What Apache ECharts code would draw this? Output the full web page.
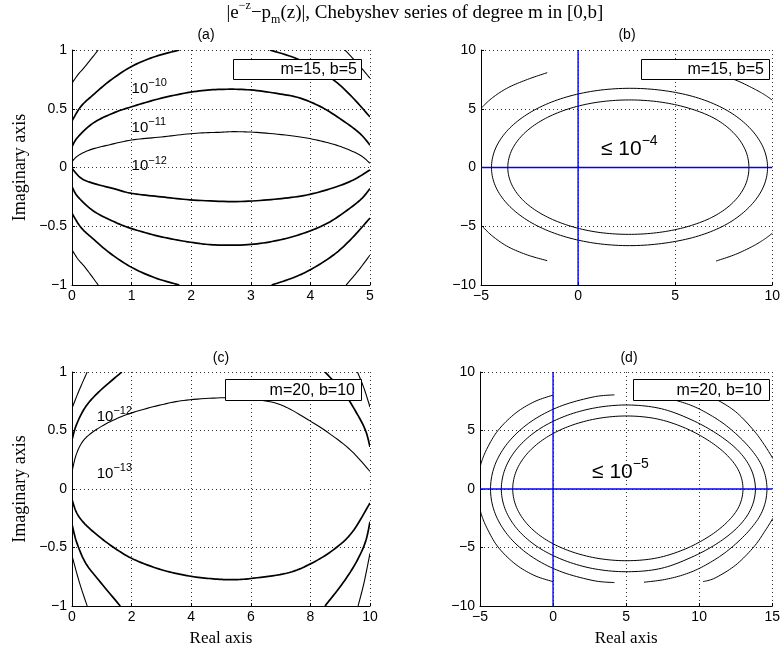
<!DOCTYPE html>
<html><head><meta charset="utf-8">
<script src="https://cdn.jsdelivr.net/npm/echarts/dist/echarts.min.js"></script>
<style>html,body{margin:0;padding:0;background:#fff}#c{width:783px;height:651px}</style>
</head><body><div id="c"></div><script>
// ---------- Panel (a): m=15, b=5, region [0,5]x[-1,1] ----------
const aCornerTL = [[0,0.717],[0.1,0.79],[0.22,0.86],[0.44,1.0]];
const aCornerBL = [[0,-0.70],[0.1,-0.78],[0.22,-0.85],[0.44,-1.0]];
const aCornerTR = [[4.58,1.0],[4.8,0.88],[5,0.76]];
const aCornerBR = [[4.6,-1.0],[4.8,-0.88],[5,-0.745]];
const aOuterUpL = [[0,0.396],[0.15,0.52],[0.36,0.62],[0.64,0.74],[1.0,0.86],[1.4,0.945],[1.8,1.0]];
const aOuterUpR = [[3.32,1.0],[3.7,0.94],[4.0,0.87],[4.39,0.745],[4.7,0.6],[5,0.43]];
const aOuterLoL = [[0,-0.39],[0.15,-0.51],[0.36,-0.61],[0.64,-0.73],[1.0,-0.85],[1.4,-0.94],[1.8,-1.0]];
const aOuterLoR = [[3.35,-1.0],[3.7,-0.94],[4.0,-0.87],[4.4,-0.74],[4.7,-0.6],[5,-0.43]];
const a10Up = [[0,0.177],[0.1,0.26],[0.36,0.38],[0.7,0.465],[1.0,0.517],[1.5,0.59],[2.04,0.645],[2.5,0.665],[3.0,0.66],[3.5,0.625],[3.83,0.59],[4.2,0.51],[4.6,0.38],[4.85,0.28],[5,0.19]];
const a10Lo = [[0,-0.163],[0.1,-0.25],[0.36,-0.37],[0.7,-0.46],[1.0,-0.52],[1.5,-0.59],[2.04,-0.64],[2.45,-0.66],[3.0,-0.655],[3.5,-0.615],[3.94,-0.55],[4.3,-0.47],[4.6,-0.37],[4.85,-0.27],[5,-0.18]];
const a11Up = [[0,0.05],[0.1,0.1],[0.3,0.15],[0.6,0.19],[1.0,0.234],[1.5,0.26],[2.04,0.29],[2.5,0.30],[2.75,0.305],[3.2,0.295],[3.83,0.26],[4.3,0.21],[4.6,0.16],[4.85,0.1],[5,0.036]];
const a12Lo = [[0,-0.007],[0.15,-0.09],[0.36,-0.135],[0.7,-0.18],[1.0,-0.22],[1.5,-0.25],[2.04,-0.277],[2.76,-0.29],[3.4,-0.27],[3.94,-0.234],[4.4,-0.17],[4.72,-0.106],[5,-0.02]];
const aLabels = [[1.0,0.67,'\u221210'],[1.0,0.34,'\u221211'],[1.0,0.013,'\u221212']];

// ---------- Panel (b): m=15, b=5, region [-5,10]x[-10,10] ----------
const bInner = [[-3.62,0],[-3.41,1.49],[-2.79,2.88],[-1.8,4.07],[-0.51,4.98],[0.98,5.55],[2.59,5.75],[4.2,5.58],[5.7,5.05],[7.0,4.2],[7.98,3.0],[8.6,1.55],[8.8,0],[8.6,-1.55],[7.98,-2.98],[7.0,-4.15],[5.7,-5.0],[4.2,-5.52],[2.59,-5.69],[0.98,-5.5],[-0.51,-4.93],[-1.8,-4.03],[-2.79,-2.86],[-3.41,-1.48],[-3.62,0]];
const bOuter = [[-4.46,0],[-4.22,1.74],[-3.51,3.37],[-2.38,4.77],[-0.91,5.84],[0.81,6.51],[2.65,6.74],[4.49,6.53],[6.21,5.9],[7.68,4.85],[8.81,3.42],[9.52,1.76],[9.76,0],[9.52,-1.74],[8.81,-3.38],[7.68,-4.8],[6.21,-5.82],[4.49,-6.43],[2.65,-6.65],[0.81,-6.43],[-0.91,-5.77],[-2.38,-4.72],[-3.51,-3.33],[-4.22,-1.72],[-4.46,0]];
const bArcTL = [[-5,5.04],[-4.4,5.95],[-3.6,6.8],[-2.6,7.5],[-1.59,8.07]];
const bArcBL = [[-5,-4.9],[-4.4,-5.85],[-3.6,-6.75],[-2.6,-7.45],[-1.59,-7.93]];
const bArcTR = [[7.1,7.96],[8.1,7.45],[9.0,6.75],[9.6,6.2],[10,5.74]];
const bArcBR = [[7.11,-7.96],[8.1,-7.4],[9.0,-6.7],[9.6,-6.1],[10,-5.6]];
const bAxisH = [[-5,0],[10,0]];
const bAxisV = [[0,-10],[0,10]];
const bNote = [[1.18,1.53,'\u22124']];

// ---------- Panel (c): m=20, b=10, region [0,10]x[-1,1] ----------
const cCornerTL = [[0,0.69],[0.25,0.85],[0.51,1.0]];
const cCornerBL = [[0,-0.57],[0.25,-0.8],[0.51,-1.0]];
const cCornerTR = [[9.58,1.0],[9.8,0.86],[10,0.7]];
const cCornerBR = [[10,-0.55],[9.8,-0.8],[9.6,-1.0]];
const cOuterTL = [[0,0.42],[0.15,0.55],[0.45,0.7],[0.9,0.83],[1.67,1.0]];
const cOuterBL = [[0,-0.3],[0.15,-0.45],[0.45,-0.63],[0.9,-0.78],[1.62,-1.0]];
const cOuterTR = [[8.49,1.0],[9.1,0.83],[9.55,0.65],[9.85,0.5],[10,0.36]];
const cOuterBR = [[10,-0.28],[9.85,-0.45],[9.55,-0.62],[9.1,-0.8],[8.49,-1.0]];
const c12Up = [[0,0.15],[0.15,0.3],[0.4,0.42],[0.83,0.51],[1.4,0.59],[2.06,0.655],[3.0,0.72],[3.85,0.76],[5.1,0.78],[6.0,0.77],[7.0,0.72],[8.0,0.58],[8.77,0.45],[9.4,0.32],[10,0.15]];
const c13Lo = [[0,-0.09],[0.15,-0.2],[0.4,-0.29],[0.83,-0.39],[1.4,-0.5],[2.06,-0.6],[3.0,-0.69],[3.85,-0.74],[4.6,-0.765],[5.3,-0.775],[6.0,-0.765],[7.2,-0.72],[8.0,-0.64],[8.77,-0.52],[9.4,-0.37],[10,-0.12]];
const cLabels = [[0.83,0.62,'\u221212'],[0.83,0.13,'\u221213']];

// ---------- Panel (d): m=20, b=10, region [-5,15]x[-10,10] ----------
const dRing1 = [[-2.76,0],[-2.49,1.62],[-1.7,3.12],[-0.45,4.41],[1.18,5.4],[3.08,6.03],[5.12,6.24],[7.16,5.98],[9.06,5.2],[10.69,4.1],[11.94,2.85],[12.73,1.5],[13.0,0],[12.73,-1.48],[11.94,-2.8],[10.69,-4.04],[9.06,-5.12],[7.16,-5.88],[5.12,-6.13],[3.08,-5.93],[1.18,-5.32],[-0.45,-4.36],[-1.7,-3.09],[-2.49,-1.6],[-2.76,0]];
const dRing2 = [[-3.54,0],[-3.24,1.86],[-2.37,3.59],[-0.99,5.08],[0.81,6.22],[2.9,6.94],[5.155,7.18],[7.41,6.86],[9.5,5.9],[11.3,4.65],[12.69,3.25],[13.55,1.7],[13.85,0],[13.55,-1.68],[12.69,-3.2],[11.3,-4.6],[9.5,-5.82],[7.41,-6.78],[5.155,-7.07],[2.9,-6.84],[0.81,-6.12],[-0.99,-5.0],[-2.37,-3.54],[-3.24,-1.84],[-3.54,0]];
const dRing3L = [[4.2,8.05],[2.73,7.86],[0.45,7.05],[-1.51,5.76],[-3.01,4.07],[-3.96,2.11],[-4.28,0],[-3.96,-2.11],[-3.01,-4.07],[-1.51,-5.74],[0.45,-7.02],[2.73,-7.82],[4.2,-8.0]];
const dRing3R = [[6.22,7.97],[7.63,7.78],[9.0,7.35],[10.3,6.65],[11.87,5.4],[13.37,3.65],[14.32,1.9],[14.64,0],[14.32,-1.9],[13.37,-3.62],[11.87,-5.35],[10.3,-6.6],[9.0,-7.3],[7.63,-7.74],[6.22,-7.97]];
const dArcTL = [[0,8.03],[-1.3,7.45],[-2.6,6.45],[-3.77,5.0],[-4.5,3.5],[-4.9,2.3],[-5.05,1.4]];
const dArcBL = [[-5.05,-1.3],[-4.9,-2.2],[-4.5,-3.4],[-3.77,-4.95],[-2.6,-6.4],[-1.3,-7.38],[0,-7.92]];
const dArcTR = [[10.26,8.0],[11.1,7.7],[12.5,6.6],[13.74,5.0],[14.5,3.7],[15.05,2.6]];
const dArcBR = [[10.26,-7.92],[11.1,-7.6],[12.5,-6.5],[13.74,-4.95],[14.5,-3.6],[15.05,-2.5]];
const dAxisH = [[-5,0],[15,0]];
const dAxisV = [[0,-10],[0,10]];
const dNote = [[2.67,1.45,'\u22125']];

// ---------- axis ranges / ticks ----------
const xRanges = [[0,5,1],[-5,10,5],[0,10,2],[-5,15,5]];
const yRanges = [[-1,1,0.5],[-10,10,5],[-1,1,0.5],[-10,10,5]];
const legendTexts = ['m=15, b=5','m=15, b=5','m=20, b=10','m=20, b=10'];
const panelTitles = ['(a)','(b)','(c)','(d)'];

const SANS = '"Liberation Sans", Arial, Helvetica, sans-serif';
const SERIF = '"Liberation Serif", "Times New Roman", serif';

const grids = [
  {left:72, top:50, width:298, height:235},
  {left:481, top:50, width:296, height:235},
  {left:72, top:372, width:298, height:234},
  {left:480, top:372, width:297, height:234}
];
const fmt = v => String(v).replace('-', '\u2212');

function xAx(g){
  const r = xRanges[g];
  return {type:'value', gridIndex:g, min:r[0], max:r[1], interval:r[2],
    axisLine:{show:true, onZero:false, lineStyle:{color:'#000', width:1}},
    axisTick:{show:true, inside:true, length:3, lineStyle:{color:'#000'}},
    axisLabel:{color:'#000', fontFamily:SANS, fontSize:14, margin:4, formatter:fmt},
    splitLine:{show:true, lineStyle:{color:'#333', type:[1,3], width:1}},
    name: g >= 2 ? 'Real axis' : '', nameLocation:'middle', nameGap:24,
    nameTextStyle:{fontFamily:SERIF, fontSize:17, color:'#000'}};
}
function yAx(g){
  const r = yRanges[g];
  return {type:'value', gridIndex:g, min:r[0], max:r[1], interval:r[2],
    axisLine:{show:true, onZero:false, lineStyle:{color:'#000', width:1}},
    axisTick:{show:true, inside:true, length:3, lineStyle:{color:'#000'}},
    axisLabel:{color:'#000', fontFamily:SANS, fontSize:14, margin:5, formatter:fmt},
    splitLine:{show:true, lineStyle:{color:'#333', type:[1,3], width:1}},
    name: (g === 0 || g === 2) ? 'Imaginary axis' : '', nameLocation:'middle', nameGap:43,
    nameTextStyle:{fontFamily:SERIF, fontSize:18, color:'#000'}};
}

// Contour curve: passes exactly through the read points (mapped by api.coord),
// drawn as a Catmull-Rom curve in pixel space so closed rings stay round.
function curve(g, pts, w){
  const closed = pts.length > 3 && pts[0][0] === pts[pts.length-1][0] && pts[0][1] === pts[pts.length-1][1];
  return {type:'custom', coordinateSystem:'cartesian2d', xAxisIndex:g, yAxisIndex:g,
    data:pts, encode:{x:0, y:1}, clip:true, silent:true, z:2,
    renderItem:(params, api) => {
      if (params.dataIndex !== 0) return null;
      const P = pts.map(p => api.coord(p));
      const n = P.length;
      const out = [];
      for (let k = 0; k < n - 1; k++) {
        const p0 = k > 0 ? P[k-1] : (closed ? P[n-2] : P[0]);
        const p1 = P[k], p2 = P[k+1];
        const p3 = k + 2 < n ? P[k+2] : (closed ? P[1] : P[n-1]);
        for (let j = 0; j < 10; j++) {
          const t = j / 10, t2 = t*t, t3 = t2*t;
          const f = (a,b,c,d) => 0.5*((2*b) + (-a + c)*t + (2*a - 5*b + 4*c - d)*t2 + (-a + 3*b - 3*c + d)*t3);
          out.push([f(p0[0],p1[0],p2[0],p3[0]), f(p0[1],p1[1],p2[1],p3[1])]);
        }
      }
      out.push(P[n-1]);
      return {type:'polyline', shape:{points:out},
        style:{fill:'none', stroke:'#000', lineWidth:w, lineJoin:'round'}};
    }};
}
// blue coordinate axes through the origin: plain line series on a top layer
function blueLine(g, pts){
  return {type:'line', xAxisIndex:g, yAxisIndex:g, data:pts, showSymbol:false, symbol:'none',
    silent:true, clip:true, zlevel:1, z:10, lineStyle:{color:'#0000ff', width:1.4, type:'solid'}};
}
const richLbl = {
  b:{fontSize:15, fontFamily:SANS, color:'#000', lineHeight:22, verticalAlign:'middle'},
  s:{fontSize:11, fontFamily:SANS, color:'#000', lineHeight:12, verticalAlign:'top'}
};
const richNote = {
  b:{fontSize:21, fontFamily:SANS, color:'#000', lineHeight:30, verticalAlign:'middle'},
  s:{fontSize:14, fontFamily:SANS, color:'#000', lineHeight:15, verticalAlign:'top'}
};
function labels(g, pts, prefix, rich){
  return {type:'scatter', xAxisIndex:g, yAxisIndex:g, symbolSize:0, silent:true, data:pts, z:5,
    itemStyle:{opacity:1},
    label:{show:true, position:'right', distance:0, color:'#000', textBorderWidth:0, opacity:1,
      formatter:p => '{b|' + prefix + '10}{s|' + p.value[2] + '}', rich:rich}};
}

const series = [
  curve(0,aCornerTL,1.1), curve(0,aCornerBL,1.1), curve(0,aCornerTR,1.1), curve(0,aCornerBR,1.1),
  curve(0,aOuterUpL,1.7), curve(0,aOuterUpR,1.7), curve(0,aOuterLoL,1.7), curve(0,aOuterLoR,1.7),
  curve(0,a10Up,1.7), curve(0,a10Lo,1.7), curve(0,a11Up,1.1), curve(0,a12Lo,1.7),
  labels(0,aLabels,'',richLbl),
  curve(1,bInner,1), curve(1,bOuter,1), curve(1,bArcTL,1), curve(1,bArcBL,1), curve(1,bArcTR,1), curve(1,bArcBR,1),
  blueLine(1,bAxisH), blueLine(1,bAxisV),
  labels(1,bNote,'\u2264 ',richNote),
  curve(2,cCornerTL,1.1), curve(2,cCornerBL,1.1), curve(2,cCornerTR,1.1), curve(2,cCornerBR,1.1),
  curve(2,cOuterTL,1.7), curve(2,cOuterBL,1.7), curve(2,cOuterTR,1.7), curve(2,cOuterBR,1.7),
  curve(2,c12Up,1.1), curve(2,c13Lo,1.7),
  labels(2,cLabels,'',richLbl),
  curve(3,dRing1,1), curve(3,dRing2,1), curve(3,dRing3L,1), curve(3,dRing3R,1),
  curve(3,dArcTL,1), curve(3,dArcBL,1), curve(3,dArcTR,1), curve(3,dArcBR,1),
  blueLine(3,dAxisH), blueLine(3,dAxisV),
  labels(3,dNote,'\u2264 ',richNote)
];

const boxes = [
  {x:233.5, y:59.5, w:128, h:20, tx:357},
  {x:641.5, y:59.5, w:128, h:20, tx:764},
  {x:225.5, y:379.5, w:136, h:21, tx:355},
  {x:633.5, y:379.5, w:136, h:21, tx:762}
];
const graphic = [];
boxes.forEach((b,i) => {
  graphic.push({type:'rect', z:100, zlevel:2, shape:{x:b.x, y:b.y, width:b.w, height:b.h},
    style:{fill:'#fff', stroke:'#000', lineWidth:1}});
  graphic.push({type:'text', z:101, zlevel:2, style:{text:legendTexts[i], x:b.tx, y:b.y + b.h/2 + 0.5,
    align:'right', verticalAlign:'middle', fontSize:16, fontFamily:SANS, fill:'#000'}});
});

const titleCenters = [[206,28],[627,28],[221,351],[629,351]];
const titles = [{
  text:'{n||e}{sup|\u2212z}{n|\u2212p}{sub|m}{n|(z)|, Chebyshev series of degree m in [0,b]}',
  left:415, top:0, textAlign:'center', padding:0,
  textStyle:{fontWeight:'normal', rich:{
    n:{fontFamily:SERIF, fontSize:19, fontWeight:'normal', color:'#000', lineHeight:26, verticalAlign:'middle'},
    sup:{fontFamily:SERIF, fontSize:12, fontWeight:'normal', color:'#000', lineHeight:13, verticalAlign:'top'},
    sub:{fontFamily:SERIF, fontSize:12, fontWeight:'normal', color:'#000', lineHeight:13, verticalAlign:'bottom'}
  }}
}];
panelTitles.forEach((t,i) => titles.push({text:t, left:titleCenters[i][0], top:titleCenters[i][1],
  textAlign:'center', padding:0, textStyle:{fontFamily:SANS, fontSize:14, fontWeight:'normal', color:'#000'}}));

const chart = echarts.init(document.getElementById('c'), null, {renderer:'canvas'});
chart.setOption({
  animation:false, backgroundColor:'#fff',
  title:titles, grid:grids,
  xAxis:[0,1,2,3].map(xAx), yAxis:[0,1,2,3].map(yAx),
  series:series, graphic:graphic
});
</script></body></html>
